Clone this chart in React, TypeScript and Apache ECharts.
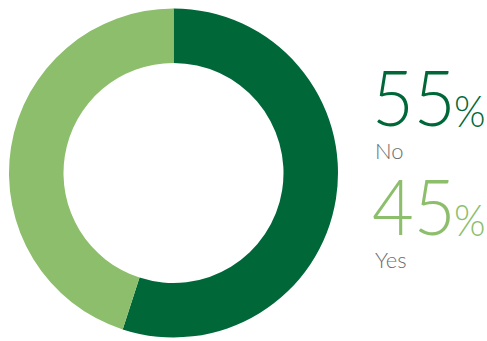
import React, { useEffect, useRef } from "react";
import * as echarts from "echarts";

const categories = ["No", "Yes"];
const values = [55, 45];
const colors = ["#006838", "#8DBE6C"];
const gray = "#6D6E71";

export default function App() {
  const ref = useRef<HTMLDivElement>(null);
  useEffect(() => {
    document.body.style.margin = "0";
    const chart = echarts.init(ref.current!, null, { renderer: "svg" });
    const font = "Lato, 'Open Sans', sans-serif";
    const rows = [
      { num: 97, pct: 109.5, label: 150.5 },
      { num: 206, pct: 219, label: 259 },
    ];
    const graphics: any[] = [];
    categories.forEach((c, i) => {
      graphics.push({
        type: "text",
        x: 372,
        y: rows[i].num,
        scaleX: 0.95,
        style: {
          text: String(values[i]),
          fontSize: 76,
          fontFamily: font,
          fontWeight: 300,
          fill: colors[i],
          verticalAlign: "middle",
        },
      });
      graphics.push({
        type: "text",
        x: 454,
        y: rows[i].pct,
        scaleX: 0.92,
        style: {
          text: "%",
          fontSize: 44,
          fontFamily: font,
          fontWeight: 300,
          fill: colors[i],
          verticalAlign: "middle",
        },
      });
      graphics.push({
        type: "text",
        x: 375,
        y: rows[i].label,
        style: {
          text: c,
          fontSize: 22,
          fontFamily: font,
          fontWeight: 300,
          fill: gray,
          verticalAlign: "middle",
        },
      });
    });
    chart.setOption({
      animation: false,
      series: [
        {
          type: "pie",
          center: [173.5, 173],
          radius: [110, 164.5],
          startAngle: 90,
          clockwise: true,
          label: { show: false },
          labelLine: { show: false },
          silent: true,
          data: categories.map((c, i) => ({ name: c, value: values[i], itemStyle: { color: colors[i] } })),
        },
      ],
      graphic: graphics,
    });
    return () => chart.dispose();
  }, []);
  return <div ref={ref} style={{ width: 487, height: 341 }} />;
}
